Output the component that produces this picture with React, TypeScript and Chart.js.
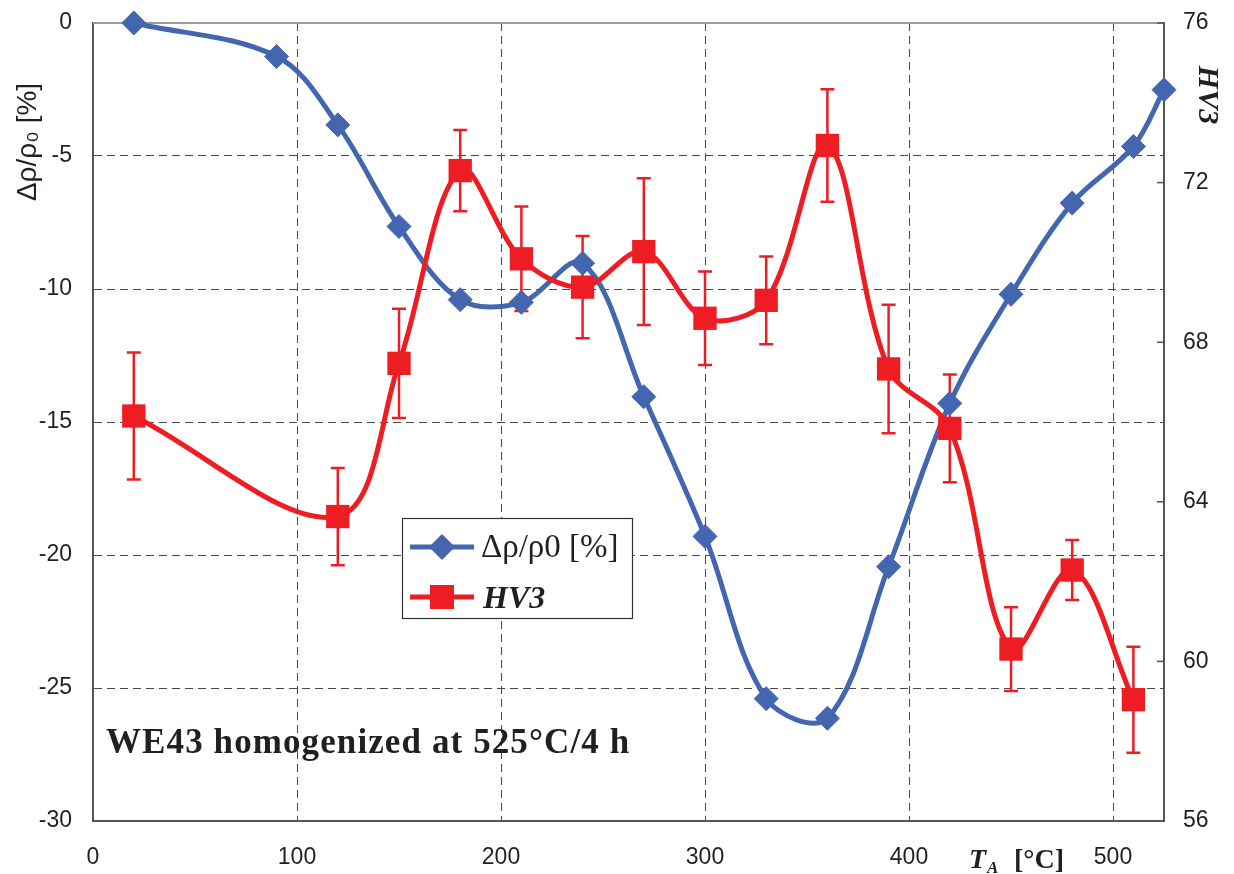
import { useEffect, useRef } from "react";
import { Chart, registerables } from "chart.js";

Chart.register(...registerables);

const rhoTemps = [20, 90, 120, 150, 180, 210, 240, 270, 300, 330, 360, 390, 420, 450, 480, 510, 525];
const rhoChange = [0, -1.26, -3.83, -7.65, -10.4, -10.5, -9.03, -14.05, -19.3, -25.4, -26.14, -20.44, -14.3, -10.2, -6.77, -4.64, -2.51];

const hvTemps = [20, 120, 150, 180, 210, 240, 270, 300, 330, 360, 390, 420, 450, 480, 510];
const hv3 = [66.15, 63.63, 67.47, 72.3, 70.09, 69.38, 70.27, 68.6, 69.05, 72.93, 67.33, 65.84, 60.31, 62.29, 59.04];
const hv3Err = [1.59, 1.22, 1.37, 1.02, 1.31, 1.28, 1.84, 1.17, 1.1, 1.41, 1.61, 1.35, 1.05, 0.75, 1.33];

const xTicks = [0, 100, 200, 300, 400, 500];
const leftTicks = [-30, -25, -20, -15, -10, -5, 0];
const rightTicks = [56, 60, 64, 68, 72, 76];

const BLUE = "#4466B0";
const RED = "#EE1D23";
const AXIS = "#555555";
const TEXT = "#231F20";

const errorBarsPlugin = {
  id: "errorBars",
  beforeDatasetsDraw(chart: any) {
    const ctx = chart.ctx;
    const x = chart.scales.x;
    const y = chart.scales.y1;
    ctx.save();
    ctx.strokeStyle = RED;
    ctx.lineWidth = 2.5;
    hvTemps.forEach((t, i) => {
      const px = x.getPixelForValue(t);
      const top = y.getPixelForValue(hv3[i] + hv3Err[i]);
      const bot = y.getPixelForValue(hv3[i] - hv3Err[i]);
      ctx.beginPath();
      ctx.moveTo(px, top);
      ctx.lineTo(px, bot);
      ctx.moveTo(px - 7, top);
      ctx.lineTo(px + 7, top);
      ctx.moveTo(px - 7, bot);
      ctx.lineTo(px + 7, bot);
      ctx.stroke();
    });
    ctx.restore();
  },
};

function drawDiamond(ctx: CanvasRenderingContext2D, cx: number, cy: number, r: number) {
  ctx.beginPath();
  ctx.moveTo(cx - r, cy);
  ctx.lineTo(cx, cy - r);
  ctx.lineTo(cx + r, cy);
  ctx.lineTo(cx, cy + r);
  ctx.closePath();
  ctx.fill();
}

const topBorderPlugin = {
  id: "topBorder",
  beforeDatasetsDraw(chart: any) {
    const ctx: any = chart.ctx;
    const area = chart.chartArea;
    const y1 = chart.scales.y1;
    ctx.save();
    ctx.strokeStyle = "#9A9A9A";
    ctx.lineWidth = 2;
    ctx.beginPath();
    ctx.moveTo(area.left, area.top);
    ctx.lineTo(area.right, area.top);
    ctx.stroke();
    ctx.strokeStyle = AXIS;
    ctx.lineWidth = 1.5;
    rightTicks.forEach((v) => {
      const py = y1.getPixelForValue(v);
      ctx.beginPath();
      ctx.moveTo(area.right - 7, py);
      ctx.lineTo(area.right, py);
      ctx.stroke();
    });
    ctx.restore();
  },
};

const decorPlugin = {
  id: "decor",
  afterDraw(chart: any) {
    const ctx: any = chart.ctx;
    ctx.save();
    ctx.fillStyle = TEXT;
    // left axis title
    ctx.save();
    ctx.translate(28, 142);
    ctx.rotate(-Math.PI / 2);
    ctx.font = "28px 'Liberation Sans', Arial, sans-serif";
    ctx.textAlign = "center";
    ctx.textBaseline = "middle";
    ctx.fillText("Δρ/ρ₀ [%]", 0, 0);
    ctx.restore();

    // right axis title
    ctx.save();
    ctx.translate(1207, 95);
    ctx.rotate(Math.PI / 2);
    ctx.font = "italic bold 30px 'Liberation Serif', serif";
    ctx.textAlign = "center";
    ctx.textBaseline = "middle";
    ctx.fillText("HV3", 0, 0);
    ctx.restore();

    // x axis title
    ctx.textAlign = "left";
    ctx.textBaseline = "alphabetic";
    ctx.font = "italic bold 28px 'Liberation Serif', serif";
    ctx.fillText("T", 969, 868);
    ctx.font = "italic bold 17px 'Liberation Serif', serif";
    ctx.fillText("A", 987, 873);
    ctx.font = "bold 28px 'Liberation Serif', serif";
    ctx.fillText("[°C]", 1014, 868);

    // annotation
    ctx.save();
    ctx.font = "bold 35px 'Liberation Serif', serif";
    ctx.letterSpacing = "1.1px";
    ctx.fillText("WE43 homogenized at 525°C/4 h", 106, 753);
    ctx.restore();

    // legend
    ctx.fillStyle = "#FFFFFF";
    ctx.fillRect(402, 518, 230, 100);
    ctx.strokeStyle = "#333333";
    ctx.lineWidth = 1.2;
    ctx.strokeRect(402.5, 518.5, 230, 100);

    ctx.lineWidth = 5;
    ctx.strokeStyle = BLUE;
    ctx.beginPath();
    ctx.moveTo(410, 547);
    ctx.lineTo(474, 547);
    ctx.stroke();
    ctx.fillStyle = BLUE;
    drawDiamond(ctx, 442, 547, 13);

    ctx.strokeStyle = RED;
    ctx.beginPath();
    ctx.moveTo(410, 597);
    ctx.lineTo(474, 597);
    ctx.stroke();
    ctx.fillStyle = RED;
    ctx.fillRect(430, 585, 24, 24);

    ctx.fillStyle = TEXT;
    ctx.font = "33px 'Liberation Serif', serif";
    ctx.fillText("Δρ/ρ0 [%]", 481, 557);
    ctx.font = "italic bold 32px 'Liberation Serif', serif";
    ctx.fillText("HV3", 483, 608);
    ctx.restore();
  },
};

export default function App() {
  const canvasRef = useRef<HTMLCanvasElement | null>(null);

  useEffect(() => {
    if (!canvasRef.current) return;
    const tickFont = { family: "'Liberation Sans', Arial, sans-serif", size: 23 };
    const chart = new Chart(canvasRef.current, {
      type: "line",
      data: {
        datasets: [
          {
            label: "HV3",
            data: hvTemps.map((t, i) => ({ x: t, y: hv3[i] })),
            yAxisID: "y1",
            borderColor: RED,
            backgroundColor: RED,
            borderWidth: 5,
            pointStyle: "rect",
            pointRadius: 16.5,
            pointBorderWidth: 0,
            tension: 0.35,
            clip: false,
            order: 0,
          },
          {
            label: "Δρ/ρ0 [%]",
            data: rhoTemps.map((t, i) => ({ x: t, y: rhoChange[i] })),
            yAxisID: "y",
            borderColor: BLUE,
            backgroundColor: BLUE,
            borderWidth: 5,
            pointStyle: "rectRot",
            pointRadius: 12,
            pointBorderWidth: 1,
            tension: 0.35,
            clip: false,
            order: 1,
          },
        ],
      },
      options: {
        responsive: false,
        animation: false,
        layout: { padding: { top: 23, left: 0, right: 0, bottom: 0 } },
        plugins: { legend: { display: false }, tooltip: { enabled: false } },
        scales: {
          x: {
            type: "linear",
            min: 0,
            max: 525,
            afterBuildTicks: (s: any) => {
              s.ticks = xTicks.map((v) => ({ value: v }));
            },
            afterFit: (s: any) => {
              s.height = 53;
              s.paddingLeft = 0;
              s.paddingRight = 0;
            },
            ticks: { font: tickFont, color: TEXT, padding: 23, maxRotation: 0 },
            grid: {
              color: (c: any) => (c.tick && c.tick.value === 0 ? "rgba(0,0,0,0)" : "#4A4A4A"),
              lineWidth: 1,
              drawTicks: false,
            },
            border: { color: AXIS, width: 2, dash: [8, 5] },
          },
          y: {
            type: "linear",
            position: "left",
            min: -30,
            max: 0,
            afterBuildTicks: (s: any) => {
              s.ticks = leftTicks.map((v) => ({ value: v }));
            },
            afterFit: (s: any) => {
              s.width = 93;
              s.paddingTop = 0;
              s.paddingBottom = 0;
            },
            ticks: { font: tickFont, color: TEXT, padding: 21 },
            grid: {
              color: (c: any) =>
                c.tick && (c.tick.value === 0 || c.tick.value === -30) ? "rgba(0,0,0,0)" : "#4A4A4A",
              lineWidth: 1,
              drawTicks: false,
            },
            border: { color: AXIS, width: 2, dash: [8, 5] },
          },
          y1: {
            type: "linear",
            position: "right",
            min: 56,
            max: 76,
            afterBuildTicks: (s: any) => {
              s.ticks = rightTicks.map((v) => ({ value: v }));
            },
            afterFit: (s: any) => {
              s.width = 70;
              s.paddingTop = 0;
              s.paddingBottom = 0;
            },
            ticks: { font: tickFont, color: TEXT, padding: 19 },
            grid: { drawOnChartArea: false, drawTicks: false },
            border: { color: AXIS, width: 2 },
          },
        },
      },
      plugins: [errorBarsPlugin, topBorderPlugin, decorPlugin],
    } as any);
    return () => chart.destroy();
  }, []);

  return (
    <canvas
      ref={canvasRef}
      width={1234}
      height={874}
      style={{ position: "absolute", left: 0, top: 0, display: "block", background: "#FFFFFF" }}
    />
  );
}
